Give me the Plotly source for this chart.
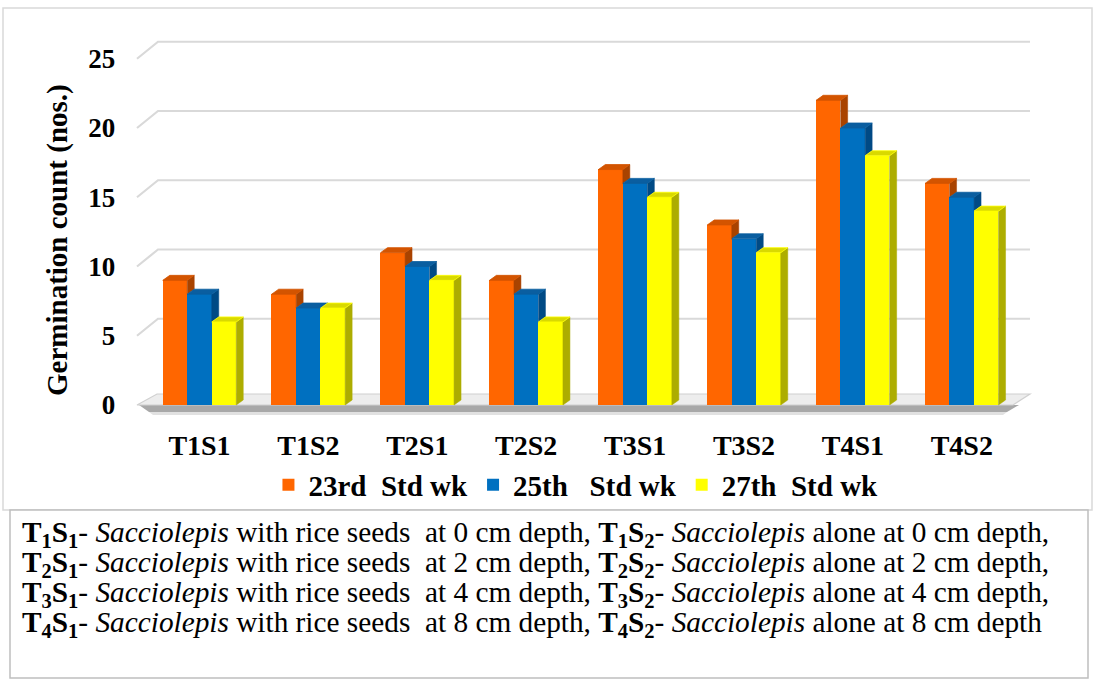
import plotly.graph_objects as go

# ---- data -------------------------------------------------------------
categories = ["T1S1", "T1S2", "T2S1", "T2S2", "T3S1", "T3S2", "T4S1", "T4S2"]
wk23 = [9, 8, 11, 9, 17, 13, 22, 16]
wk25 = [8, 7, 10, 8, 16, 12, 20, 15]
wk27 = [6, 7, 9, 6, 15, 11, 18, 14]
series_names = ["23rd\u00a0\u00a0Std wk", "25th\u00a0\u00a0\u00a0Std wk", "27th\u00a0\u00a0Std wk"]
y_ticks = [0, 5, 10, 15, 20, 25]
y_title = "Germination count (nos.)"

note_lines = [
    "<b>T<sub>1</sub>S<sub>1</sub></b>- <i>Sacciolepis</i> with rice seeds\u00a0 at 0 cm depth, "
    "<b>T<sub>1</sub>S<sub>2</sub></b>- <i>Sacciolepis</i> alone at 0 cm depth,",
    "<b>T<sub>2</sub>S<sub>1</sub></b>- <i>Sacciolepis</i> with rice seeds\u00a0 at 2 cm depth, "
    "<b>T<sub>2</sub>S<sub>2</sub></b>- <i>Sacciolepis</i> alone at 2 cm depth,",
    "<b>T<sub>3</sub>S<sub>1</sub></b>- <i>Sacciolepis</i> with rice seeds\u00a0 at 4 cm depth, "
    "<b>T<sub>3</sub>S<sub>2</sub></b>- <i>Sacciolepis</i> alone at 4 cm depth,",
    "<b>T<sub>4</sub>S<sub>1</sub></b>- <i>Sacciolepis</i> with rice seeds\u00a0 at 8 cm depth, "
    "<b>T<sub>4</sub>S<sub>2</sub></b>- <i>Sacciolepis</i> alone at 8 cm depth",
]

# ---- styling ----------------------------------------------------------
FRONT = ["#FF6600", "#0070C0", "#FFFF00"]
TOP = ["#D35400", "#0A5EA0", "#D9D900"]
SIDE = ["#A94300", "#004A85", "#ADAD00"]
EDGE = ["#FF6600", "#0070C0", "#FFFF00"]
FONT = "Liberation Serif"

W, H = 1096, 682
# pixel placement of the plotting frame
X0_PX, X_STEP_PX = 199.5, 108.9     # category 0 centre, spacing between categories
Y0_PX, Y_STEP_PX = 405.0, 13.85     # value 0 baseline, pixels per unit
XR = (-0.6, 7.9)
YR = (-1.5, 27.5)


def px_x(i):
    return X0_PX + X_STEP_PX * i


def px_y(v):
    return Y0_PX - Y_STEP_PX * v


x_domain = [px_x(XR[0]) / W, px_x(XR[1]) / W]
y_domain = [1 - px_y(YR[0]) / H, 1 - px_y(YR[1]) / H]

kx, ky = 1 / X_STEP_PX, 1 / Y_STEP_PX
bar_w = 24.5 * kx
depth_dx, depth_dy = 7 * kx, 5 * ky         # bar depth (side / top faces)
wall_dx, wall_dy = 21 * kx, 17 * ky         # back wall offset of gridlines
floor_dx, floor_dy = 20 * kx, 11 * ky       # floor slab depth
x_left = (137 - X0_PX) * kx
x_right_back = (1030 - X0_PX) * kx
x_right_front = (1013 - X0_PX) * kx

fig = go.Figure()

# ---- bars: front faces ------------------------------------------------
all_series = [wk23, wk25, wk27]
offsets = [-bar_w, 0.0, bar_w]
for k, (name, vals) in enumerate(zip(series_names, all_series)):
    fig.add_trace(go.Bar(
        x=[i + offsets[k] for i in range(len(categories))],
        y=vals,
        width=bar_w,
        name=name,
        marker=dict(color=FRONT[k], line=dict(width=0)),
    ))

# ---- bars: top and side faces (drawn above the fronts) ----------------
for k, vals in enumerate(all_series):
    tx, ty, sx, sy = [], [], [], []
    for i, v in enumerate(vals):
        xl = i + offsets[k] - bar_w / 2
        xr = xl + bar_w
        # top face
        tx += [xl, xr, xr + depth_dx, xl + depth_dx, xl, None]
        ty += [v, v, v + depth_dy, v + depth_dy, v, None]
        # right face: hidden by the neighbouring bar up to its height
        base = all_series[k + 1][i] if k + 1 < len(all_series) else 0
        if v > base:
            sx += [xr, xr, xr + depth_dx, xr + depth_dx, xr, None]
            sy += [base, v, v + depth_dy, base + depth_dy, base, None]
    fig.add_trace(go.Scatter(x=sx, y=sy, mode="lines", fill="toself",
                             fillcolor=SIDE[k], line=dict(color=SIDE[k], width=0.5),
                             showlegend=False, hoverinfo="skip"))
    fig.add_trace(go.Scatter(x=tx, y=ty, mode="lines", fill="toself",
                             fillcolor=TOP[k], line=dict(color=EDGE[k] if k == 2 else TOP[k], width=0.8),
                             showlegend=False, hoverinfo="skip"))

# ---- back-wall gridlines and floor ------------------------------------
shapes = []
for t in y_ticks[1:]:
    shapes.append(dict(
        type="path", xref="x", yref="y", layer="below",
        path=f"M{x_left},{t} L{x_left + wall_dx},{t + wall_dy} L{x_right_back},{t + wall_dy}",
        line=dict(color="#D9D9D9", width=2.2),
    ))
# floor shadow
sh = 7 * ky
shapes.append(dict(
    type="path", xref="x", yref="y", layer="below",
    path=(f"M{x_left + 2 * kx},{0} L{x_right_front + 6 * kx},{0} "
          f"L{x_right_front - 6 * kx},{-sh} L{x_left + 12 * kx},{-sh} Z"),
    fillcolor="rgba(110,110,110,0.6)", line=dict(width=0),
))
shapes.append(dict(
    type="path", xref="x", yref="y", layer="below",
    path=(f"M{x_left + 12 * kx},{-sh} L{x_right_front - 6 * kx},{-sh} "
          f"L{x_right_front - 10 * kx},{-sh - 3 * ky} L{x_left + 16 * kx},{-sh - 3 * ky} Z"),
    fillcolor="rgba(170,170,170,0.35)", line=dict(width=0),
))
# floor top surface
shapes.append(dict(
    type="path", xref="x", yref="y", layer="below",
    path=(f"M{x_left},{0} L{x_left + floor_dx},{floor_dy} L{x_right_back},{floor_dy} "
          f"L{x_right_front},{0} Z"),
    fillcolor="#EDEDED", line=dict(color="#D0D0D0", width=1.2),
))

# outer chart frame and note box
shapes.append(dict(type="rect", xref="paper", yref="paper", layer="below",
                   x0=3 / W, x1=1092 / W, y0=1 - 510 / H, y1=1 - 8 / H,
                   line=dict(color="#D9D9D9", width=1.5)))
shapes.append(dict(type="rect", xref="paper", yref="paper", layer="below",
                   x0=10 / W, x1=1088 / W, y0=1 - 678 / H, y1=1 - 510 / H,
                   fillcolor="white", line=dict(color="#BFBFBF", width=1.5)))

annotations = [dict(
    text=f"<b>{y_title}</b>", textangle=-90, xref="paper", yref="paper",
    x=57 / W, y=1 - 240 / H, xanchor="center", yanchor="middle", showarrow=False,
    font=dict(family=FONT, size=29, color="black"),
)]
line_y = [534, 564, 594, 624]
for txt, yp in zip(note_lines, line_y):
    annotations.append(dict(
        text=txt, xref="paper", yref="paper", x=20 / W, y=1 - yp / H,
        xanchor="left", yanchor="middle", showarrow=False,
        font=dict(family=FONT, size=29.3, color="black"),
    ))

fig.update_layout(
    width=W, height=H,
    margin=dict(l=0, r=0, t=0, b=0),
    paper_bgcolor="white", plot_bgcolor="rgba(0,0,0,0)",
    barmode="overlay", bargap=0,
    hovermode=False,
    showlegend=True,
    legend=dict(orientation="h", x=0.5255, xanchor="center", y=1 - 485 / H, yanchor="middle",
                font=dict(family=FONT, size=29, color="black", weight="bold"),
                bgcolor="rgba(0,0,0,0)", itemwidth=30, traceorder="normal"),
    xaxis=dict(domain=x_domain, range=list(XR), tickvals=list(range(len(categories))),
               ticktext=categories, showgrid=False, zeroline=False, showline=False, ticks="",
               tickfont=dict(family=FONT, size=28, color="black", weight="bold"), fixedrange=True),
    yaxis=dict(domain=y_domain, range=list(YR), tickvals=y_ticks, showgrid=False,
               zeroline=False, showline=False, ticks="", ticklabelstandoff=18,
               tickfont=dict(family=FONT, size=27, color="black", weight="bold"), fixedrange=True),
    shapes=shapes,
    annotations=annotations,
)

fig.write_html("out.html")
